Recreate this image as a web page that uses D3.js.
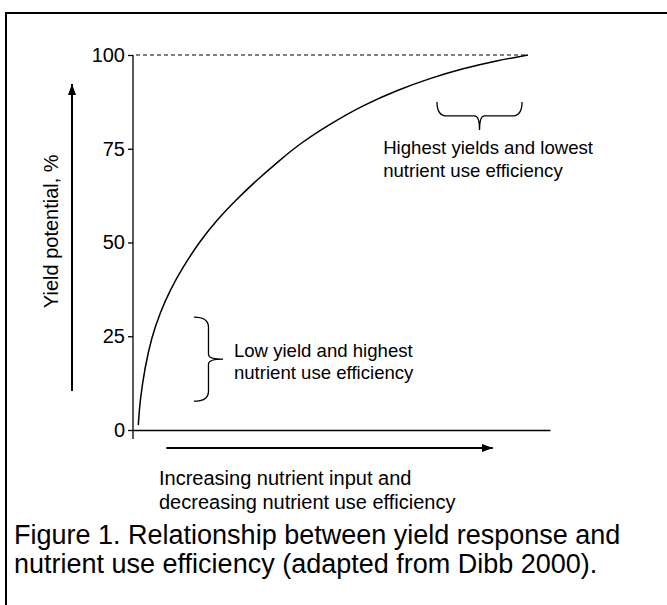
<!DOCTYPE html>
<html>
<head>
<meta charset="utf-8">
<script src="https://cdn.jsdelivr.net/npm/d3@7"></script>
<style>
  html, body { margin: 0; padding: 0; background: #fff; }
  svg { display: block; font-family: "Liberation Sans", Arial, sans-serif; }
</style>
</head>
<body>
<svg id="chart" width="667" height="605"></svg>
<script>
// ---- data ----
const inputLevel = [1.27, 1.68, 2.88, 4.48, 6.47, 8.87, 12.0, 16.07, 20.14, 24.46, 29.74, 35.25, 40.05, 47.24, 55.16, 63.31, 71.22, 79.14, 87.29, 94.72];
const yieldPct   = [1.3, 8.0, 16.8, 24.8, 31.2, 37.3, 43.5, 50.4, 56.0, 61.1, 66.7, 72.0, 76.4, 81.6, 86.6, 90.6, 93.8, 96.4, 98.5, 100];
const yTicks = [0, 25, 50, 75, 100];
const yTickLabels = ["0", "25", "50", "75", "100"];
const yAxisTitle = "Yield potential, %";
const xAxisTitle = ["Increasing nutrient input and", "decreasing nutrient use efficiency"];
const noteHigh = ["Highest yields and lowest", "nutrient use efficiency"];
const noteLow = ["Low yield and highest", "nutrient use efficiency"];
const caption = ["Figure 1. Relationship between yield response and", "nutrient use efficiency (adapted from Dibb 2000)."];
// brace extents in data units
const braceHigh = { x0: 72.9, x1: 93.3, yTop: 87.5, yTip: 80.0 };
const braceLow  = { xEnd: 14.6, xTip: 21.6, y0: 30.1, y1: 7.7 };

// ---- layout ----
const svg = d3.select("#chart");
const x = d3.scaleLinear().domain([0, 100]).range([133, 550]);
const y = d3.scaleLinear().domain([0, 100]).range([430, 55]);

// frame (extends past right and bottom edges)
svg.append("path")
  .attr("d", "M6,605V13H667")
  .attr("fill", "none").attr("stroke", "#000").attr("stroke-width", 2);

// arrow marker
const defs = svg.append("defs");
defs.append("marker").attr("id", "arr")
  .attr("viewBox", "0 0 11 9").attr("refX", 11).attr("refY", 4.5)
  .attr("markerWidth", 11).attr("markerHeight", 9)
  .attr("markerUnits", "userSpaceOnUse").attr("orient", "auto")
  .append("path").attr("d", "M0,0.5L11,4.5L0,8.5Z").attr("fill", "#000");

// dashed line at 100
svg.append("line")
  .attr("x1", x(0) + 3).attr("x2", x(94.7))
  .attr("y1", y(100)).attr("y2", y(100))
  .attr("stroke", "#000").attr("stroke-width", 1.1)
  .attr("stroke-dasharray", "4,3");

// y axis
const yAxis = d3.axisLeft(y).tickValues(yTicks)
  .tickFormat((d, i) => yTickLabels[i]).tickSize(5).tickSizeOuter(0).tickPadding(3);
const gy = svg.append("g").attr("transform", `translate(${x(0)},0)`).call(yAxis);
gy.select(".domain").remove();
gy.selectAll(".tick line").attr("stroke", "#000").attr("stroke-width", 1.3);
gy.selectAll(".tick text").attr("fill", "#000").style("font-size", "20px")
  .style("font-family", "Liberation Sans, Arial, sans-serif");
svg.append("line")
  .attr("x1", x(0)).attr("x2", x(0))
  .attr("y1", y(100)).attr("y2", y(0) + 9)
  .attr("stroke", "#000").attr("stroke-width", 1.3);

// x axis (plain line)
const xAxis = d3.axisBottom(x).ticks(0).tickSizeOuter(0);
const gx = svg.append("g").attr("transform", `translate(0,${y(0)})`).call(xAxis);
gx.select(".domain").attr("stroke", "#000").attr("stroke-width", 1.3);

// curve
const pts = inputLevel.map((v, i) => [v, yieldPct[i]]);
svg.append("path").datum(pts)
  .attr("d", d3.line().x(d => x(d[0])).y(d => y(d[1])).curve(d3.curveBasis))
  .attr("fill", "none").attr("stroke", "#000").attr("stroke-width", 1.5);

// direction arrows
svg.append("line")
  .attr("x1", 72).attr("x2", 72).attr("y1", y(10.4)).attr("y2", y(92.3))
  .attr("stroke", "#000").attr("stroke-width", 2).attr("marker-end", "url(#arr)");
svg.append("line")
  .attr("x1", x(8)).attr("x2", x(86.3)).attr("y1", y(0) + 18).attr("y2", y(0) + 18)
  .attr("stroke", "#000").attr("stroke-width", 2).attr("marker-end", "url(#arr)");

// braces
function hBrace(x0, x1, yTop, yTip) {
  const xm = (x0 + x1) / 2, ym = (yTop + yTip) / 2, r = 5;
  return `M${x0},${yTop} Q${x0},${ym} ${x0 + r * 2},${ym} L${xm - r},${ym} Q${xm},${ym} ${xm},${yTip}` +
         ` M${x1},${yTop} Q${x1},${ym} ${x1 - r * 2},${ym} L${xm + r},${ym} Q${xm},${ym} ${xm},${yTip}`;
}
function vBrace(xEnd, xTip, y0, y1) {
  const ym = (y0 + y1) / 2, xm = (xEnd + xTip) / 2, r = 5;
  return `M${xEnd},${y0} Q${xm},${y0} ${xm},${y0 + r * 2} L${xm},${ym - r} Q${xm},${ym} ${xTip},${ym}` +
         ` M${xEnd},${y1} Q${xm},${y1} ${xm},${y1 - r * 2} L${xm},${ym + r} Q${xm},${ym} ${xTip},${ym}`;
}
svg.append("path")
  .attr("d", hBrace(x(braceHigh.x0), x(braceHigh.x1), y(braceHigh.yTop), y(braceHigh.yTip)))
  .attr("fill", "none").attr("stroke", "#000").attr("stroke-width", 1.3);
svg.append("path")
  .attr("d", vBrace(x(braceLow.xEnd), x(braceLow.xTip), y(braceLow.y0), y(braceLow.y1)))
  .attr("fill", "none").attr("stroke", "#000").attr("stroke-width", 1.3);

// annotations
function lines(arr, xPos, yPos, size, lh, anchor) {
  const t = svg.append("text").attr("x", xPos).attr("y", yPos)
    .attr("text-anchor", anchor || "start").style("font-size", size + "px").attr("fill", "#000");
  arr.forEach((s, i) => t.append("tspan").attr("x", xPos).attr("dy", i === 0 ? 0 : lh).text(s));
}
lines(noteHigh, x(60), y(73.6), 18.6, 22.5);
lines(noteLow, x(24.2), y(19.5), 18.6, 22);
lines(xAxisTitle, 159, y(0) + 55, 20, 24);
lines(caption, 14, 544, 27, 29);

// y axis title
svg.append("text")
  .attr("transform", `translate(58,${y(53)}) rotate(-90)`)
  .attr("text-anchor", "middle").style("font-size", "20px").attr("fill", "#000")
  .text(yAxisTitle);
</script>
</body>
</html>
